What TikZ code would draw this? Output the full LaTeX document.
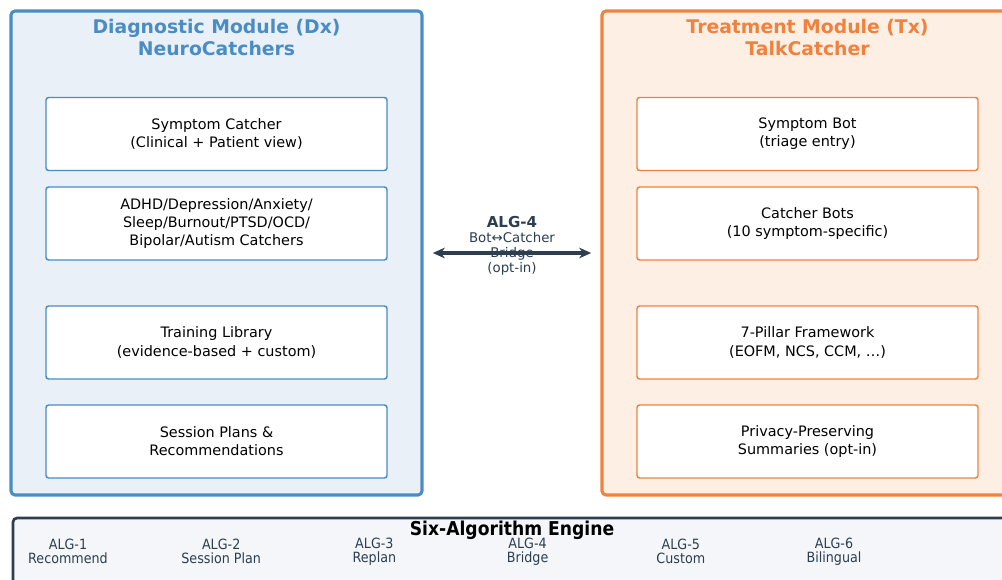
\documentclass[tikz,border=0pt]{standalone}
\usepackage{fontspec}
\setmainfont{DejaVu Sans}
\newfontfamily\condfont{DejaVu Sans}[FakeStretch=0.9]
\usepackage{xcolor}
\usepackage{tikz}
\usetikzlibrary{arrows.meta}
\usetikzlibrary{calc}
\usetikzlibrary{positioning}

\definecolor{dxblue}{HTML}{4A8DC2}
\definecolor{dxfill}{HTML}{E9F0F7}
\definecolor{txorange}{HTML}{F0823E}
\definecolor{txfill}{HTML}{FDEFE4}
\definecolor{navy}{HTML}{2C3E50}
\definecolor{engfill}{HTML}{F4F6F9}

\begin{document}
\begin{tikzpicture}[x=0.75pt,y=-0.75pt,>={Stealth[length=9pt,width=8pt]}]
 				 \tikzstyle{panel}=[draw, rounded corners=3pt, line width=2.3pt, minimum width=411*0.75pt, minimum height=484*0.75pt, inner sep=0pt]
 				 \tikzstyle{title}=[align=center, font={\fontsize{14.1}{16}\selectfont\bfseries}]
 				 \tikzstyle{item}=[draw, fill=white, rounded corners=2pt, line width=1.1pt, minimum width=341*0.75pt, minimum height=73*0.75pt, align=center, font={\fontsize{10.8}{13.6}\selectfont}]
 				 \tikzstyle{algtxt}=[align=center, text=navy, font={\condfont\fontsize{10.6}{10.6}\selectfont}]
 				 \useasboundingbox (0,0) rectangle (1002,579);
 				 \clip (0,0) rectangle (1002,579);
 					 % the two modules
 					 \node[panel, draw=dxblue, fill=dxfill]       (dx) at (216.5,253) {};
 					 \node[panel, draw=txorange, fill=txfill]     (tx) at (807.5,253) {};
 					 \node[title, text=dxblue]   (dxtitle) at (216.5,37.5) {Diagnostic Module (Dx)\\NeuroCatchers};
 					 \node[title, text=txorange] (txtitle) at (807.5,37.5) {Treatment Module (Tx)\\TalkCatcher};
 					 % diagnostic side
 					 \node[item, draw=dxblue] (sc)   at (216.5,134)   {Symptom Catcher\\(Clinical + Patient view)};
 					 \node[item, draw=dxblue] (cat)  at (216.5,223.5) {ADHD/Depression/Anxiety/\\Sleep/Burnout/PTSD/OCD/\\Bipolar/Autism Catchers};
 					 \node[item, draw=dxblue] (lib)  at (216.5,342.5) {Training Library\\(evidence-based + custom)};
 					 \node[item, draw=dxblue] (plan) at (216.5,441.5) {Session Plans \&\\Recommendations};
 					 % treatment side
 					 \node[item, draw=txorange] (sb)   at (807.5,134)   {Symptom Bot\\(triage entry)};
 					 \node[item, draw=txorange] (cb)   at (807.5,223.5) {Catcher Bots\\(10 symptom-specific)};
 					 \node[item, draw=txorange] (pil)  at (807.5,342.5) {7-Pillar Framework\\(EOFM, NCS, CCM, …)};
 					 \node[item, draw=txorange] (priv) at (807.5,441.5) {Privacy-Preserving\\Summaries (opt-in)};
 					 % bridge
 					 \draw[<->, navy, line width=2.3pt, shorten <=7pt, shorten >=7pt] (dx.east |- 0,253) -- (tx.west |- 0,253);
 					 \node[align=center, text=navy, font={\fontsize{10}{11.3}\selectfont}] (bridge) at (512,245.5)
 					   {{\fontsize{11.3}{11.3}\selectfont\bfseries ALG-4}\\Bot↔Catcher\\Bridge\\(opt-in)};
 					 % engine
 					 \node[draw=navy, fill=engfill, rounded corners=3pt, line width=2pt, minimum width=998*0.75pt, minimum height=90*0.75pt, inner sep=0pt] (eng) at (512,563) {};
 					 \node[font={\condfont\fontsize{14.3}{16}\selectfont\bfseries}] (engtitle) at (512,530) {Six-Algorithm Engine};
 					 \foreach \n/\lbl in {1/Recommend, 2/Session Plan, 3/Replan, 4/Bridge, 5/Custom, 6/Bilingual}
 					   \node[algtxt] (alg\n) at ({68+(\n-1)*153.2},551.5) {ALG-\n\\\lbl};
				\end{tikzpicture}
\end{document}
